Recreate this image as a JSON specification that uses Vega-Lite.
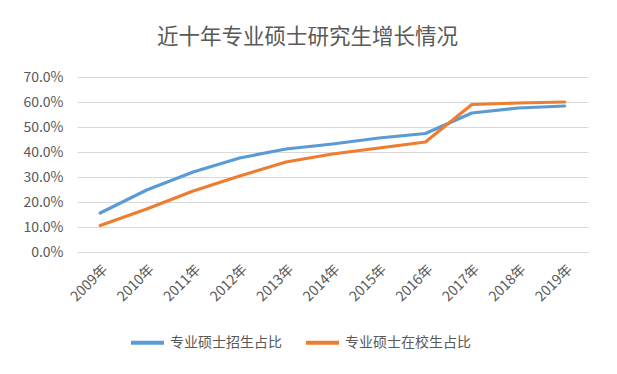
{
  "$schema": "https://vega.github.io/schema/vega-lite/v6.json",
  "autosize": "none",
  "width": 511,
  "height": 175,
  "padding": {"left": 77, "top": 77, "right": 29, "bottom": 122},
  "background": "white",
  "title": {"text": "近十年专业硕士研究生增长情况", "fontSize": 21.5, "font": "Noto Sans CJK SC", "fontWeight": "normal", "color": "#595959", "offset": 22, "dx": -25},
  "data": {"values": [
    {"year": "2009年", "s": "专业硕士招生占比", "v": 0.156},
    {"year": "2010年", "s": "专业硕士招生占比", "v": 0.248},
    {"year": "2011年", "s": "专业硕士招生占比", "v": 0.32},
    {"year": "2012年", "s": "专业硕士招生占比", "v": 0.376},
    {"year": "2013年", "s": "专业硕士招生占比", "v": 0.412},
    {"year": "2014年", "s": "专业硕士招生占比", "v": 0.432},
    {"year": "2015年", "s": "专业硕士招生占比", "v": 0.456},
    {"year": "2016年", "s": "专业硕士招生占比", "v": 0.474},
    {"year": "2017年", "s": "专业硕士招生占比", "v": 0.556},
    {"year": "2018年", "s": "专业硕士招生占比", "v": 0.576},
    {"year": "2019年", "s": "专业硕士招生占比", "v": 0.584},
    {"year": "2009年", "s": "专业硕士在校生占比", "v": 0.106},
    {"year": "2010年", "s": "专业硕士在校生占比", "v": 0.172},
    {"year": "2011年", "s": "专业硕士在校生占比", "v": 0.244},
    {"year": "2012年", "s": "专业硕士在校生占比", "v": 0.304},
    {"year": "2013年", "s": "专业硕士在校生占比", "v": 0.36},
    {"year": "2014年", "s": "专业硕士在校生占比", "v": 0.392},
    {"year": "2015年", "s": "专业硕士在校生占比", "v": 0.416},
    {"year": "2016年", "s": "专业硕士在校生占比", "v": 0.44},
    {"year": "2017年", "s": "专业硕士在校生占比", "v": 0.59},
    {"year": "2018年", "s": "专业硕士在校生占比", "v": 0.596},
    {"year": "2019年", "s": "专业硕士在校生占比", "v": 0.6}
  ]},
  "mark": {"type": "line", "interpolate": "linear", "strokeWidth": 3.2, "strokeCap": "round", "strokeJoin": "round"},
  "encoding": {
    "x": {"field": "year", "type": "ordinal", "scale": {"type": "point", "padding": 0.5},
      "axis": {"title": null, "labelAngle": -45, "labelFontSize": 14, "labelColor": "#595959", "labelFont": "Noto Sans CJK SC", "ticks": false, "domainColor": "#d9d9d9", "labelPadding": 10, "grid": false}},
    "y": {"field": "v", "type": "quantitative", "scale": {"domain": [0, 0.7]},
      "axis": {"title": null, "format": ".1%", "values": [0, 0.1, 0.2, 0.3, 0.4, 0.5, 0.6, 0.7], "labelFontSize": 14, "labelColor": "#595959", "labelFont": "Noto Sans CJK SC", "ticks": false, "domain": false, "gridColor": "#d9d9d9", "labelPadding": 14}},
    "color": {"field": "s", "type": "nominal", "sort": ["专业硕士招生占比", "专业硕士在校生占比"],
      "scale": {"range": ["#5B9BD5", "#ED7D31"]},
      "legend": {"title": null, "orient": "none", "legendX": 52, "legendY": 247, "direction": "horizontal", "symbolType": "stroke", "symbolSize": 1089, "symbolStrokeWidth": 4, "labelFontSize": 14, "labelColor": "#595959", "labelFont": "Noto Sans CJK SC", "labelOffset": 4, "columnPadding": 16}}
  },
  "config": {"view": {"stroke": null}}
}
